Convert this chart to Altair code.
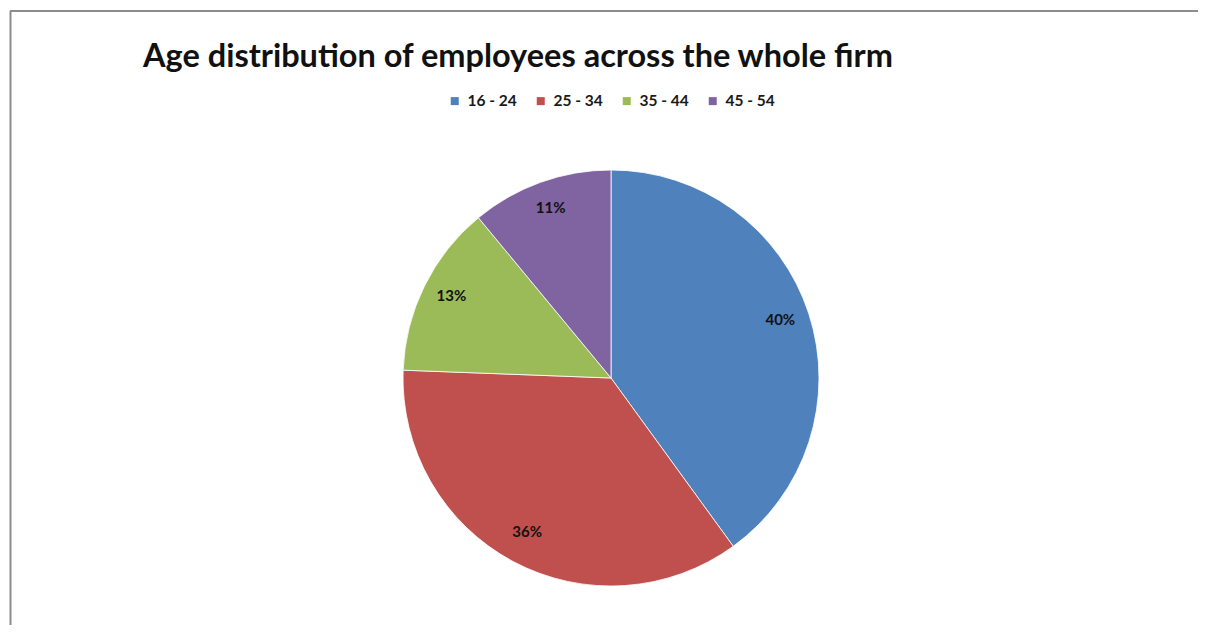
import altair as alt
import pandas as pd

# ---- data ----
ages = ["16 - 24", "25 - 34", "35 - 44", "45 - 54"]
shares = [40.0, 35.6, 13.4, 11.0]
labels = ["40%", "36%", "13%", "11%"]
colors = ["#4F81BD", "#C0504D", "#9BBB59", "#8064A2"]

df = pd.DataFrame({"age": ages, "share": shares, "label": labels,
                   "order": list(range(len(ages)))})

W, H = 1190, 617          # whole canvas (page minus 8px margin)
CX, CY = 603, 370         # pie centre inside the canvas
R = 208
FONT = "Lato"

base = alt.Chart(df).encode(
    theta=alt.Theta("share:Q", stack=True),
    order=alt.Order("order:Q"),
)

pie = base.mark_arc(radius=R, stroke="#ffffff", strokeWidth=0.8).encode(
    x=alt.value(CX), y=alt.value(CY),
    color=alt.Color(
        "age:N",
        scale=alt.Scale(domain=ages, range=colors),
        legend=alt.Legend(
            title=None, orient="none", direction="horizontal", columns=4,
            legendX=439, legendY=85, padding=0,
            symbolType="square", symbolSize=64, symbolStrokeWidth=0,
            labelFont=FONT, labelFontSize=15.5, labelFontWeight="bold",
            labelColor="#1a1a1a", labelOffset=5, columnPadding=16,
        ),
    ),
)

text = base.mark_text(radius=178, font=FONT, fontSize=15, fontWeight="bold",
                      color="#111111", dy=-3).encode(
    x=alt.value(CX), y=alt.value(CY), text="label:N"
)

frame = pd.DataFrame({"k": [0]})
top_border = alt.Chart(frame).mark_rule(color="#8c8c8c", strokeWidth=2).encode(
    x=alt.value(2), x2=alt.value(W), y=alt.value(3))
left_border = alt.Chart(frame).mark_rule(color="#8c8c8c", strokeWidth=2).encode(
    x=alt.value(2.5), y=alt.value(3), y2=alt.value(H))

chart = alt.layer(top_border, left_border, pie, text).properties(
    width=W, height=H,
    autosize=alt.AutoSizeParams(type="none"),
    padding=0,
    title=alt.TitleParams(
        "Age distribution of employees across the whole firm",
        anchor="start", frame="group", orient="top",
        font=FONT, fontSize=32.5, fontWeight="bold", color="#111111",
        offset=0, dx=135, dy=98, baseline="bottom",
    ),
).configure_view(stroke=None)

chart.save("out.html", embed_options={"renderer": "svg", "actions": False})
